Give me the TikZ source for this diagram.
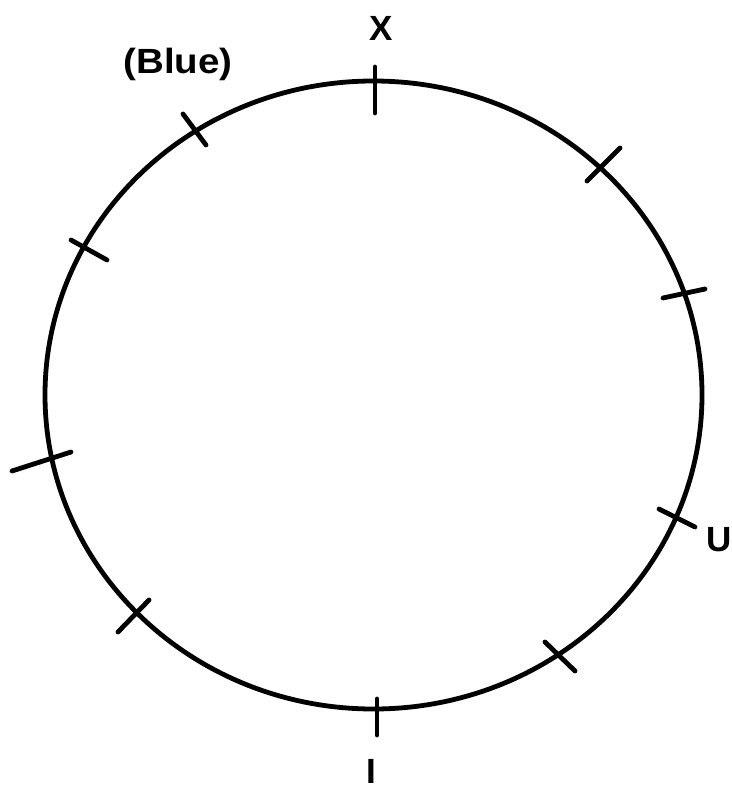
\documentclass[tikz,border=0pt]{standalone}
\usepackage{fontspec}
\setmainfont{Liberation Sans}
\begin{document}
\begin{tikzpicture}[x=1pt,y=-1pt,
  rim/.style={line width=4.8pt},
  tick/.style={line width=4.8pt,line cap=round},
  lab/.style={font=\fontsize{35}{35}\selectfont\bfseries,inner sep=0pt}]
\useasboundingbox[fill=white] (0,0) rectangle (731,789);
% hand-drawn circle
\draw[rim] (373.5,395) ellipse [x radius=328.5pt, y radius=314pt];
% tick marks
\draw[tick] (375,67) -- (375,113);
\draw[tick] (183,114) -- (206,145);
\draw[tick] (620,148) -- (587,181);
\draw[tick] (663,298) -- (705,289);
\draw[tick] (71,240) -- (107,260);
\draw[tick] (12,471) -- (71,452);
\draw[tick] (659,509) -- (695,527);
\draw[tick] (545,642) -- (575,671);
\draw[tick] (149,600) -- (118,632);
\draw[tick] (377,699) -- (377,735);
% labels
\node[lab] (lx) at (381,28) {X};
\node[lab,xscale=1.1] (lblue) at (178,64) {(Blue)};
\node[lab] (lu) at (719,540) {U};
\node[lab] (li) at (371,771) {I};
\end{tikzpicture}
\end{document}
